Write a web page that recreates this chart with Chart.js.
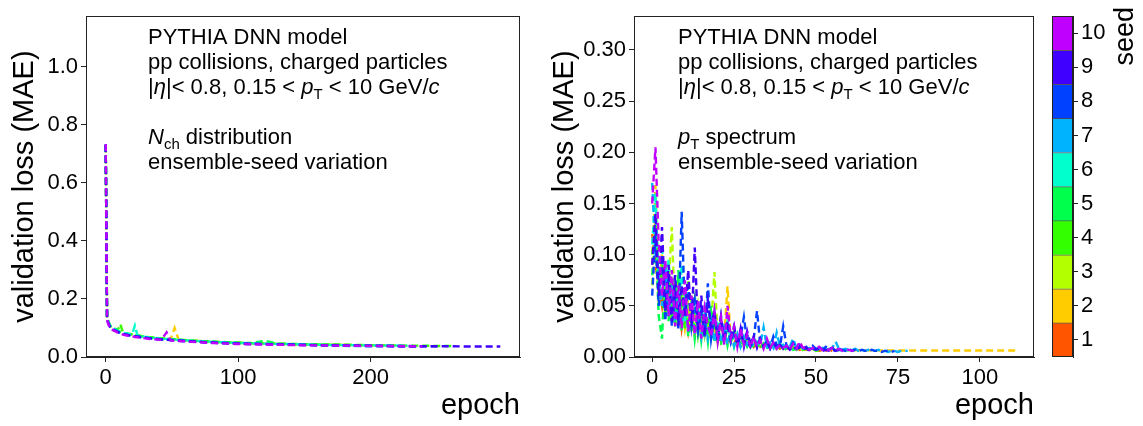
<!DOCTYPE html>
<html>
<head>
<meta charset="utf-8">
<script src="https://cdn.jsdelivr.net/npm/chart.js@4.4.0/dist/chart.umd.min.js"></script>
<style>
  body { margin: 0; background: #fff; }
  #wrap { position: relative; width: 1143px; height: 426px; background: #fff; }
  canvas { position: absolute; top: 0; }
</style>
</head>
<body>
<div id="wrap">
  <canvas id="nch" width="560" height="426" style="left:0"></canvas>
  <canvas id="pt" width="510" height="426" style="left:530px"></canvas>
  <canvas id="cbar" width="103" height="426" style="left:1040px"></canvas>
</div>
<script>
const FONT = '"Liberation Sans", Arial, sans-serif';

// seeds + colours of the colour bar
const seeds = [1, 2, 3, 4, 5, 6, 7, 8, 9, 10];
const seedColors = ['#ff5500', '#ffcc00', '#b3ff00', '#33ff00', '#00ff4d', '#00ffcc', '#00b3ff', '#0040ff', '#4000ff', '#bf00ff'];

/* ---- left panel: Nch distribution, loss read at these epochs ---- */
const nchEpochs = [0, 1, 2, 3, 4, 7, 9, 11, 13, 15, 17, 20, 22, 24, 26, 28, 30, 33, 36, 39, 42, 46, 49, 52, 55, 59, 62, 65,
  71, 76, 82, 87, 92, 98, 103, 109, 120, 131, 141, 152, 163, 174, 185, 196, 207, 218, 228, 239, 250, 261, 272, 283, 298];

const nchSeed1 = [0.728, 0.132, 0.120, 0.110, 0.101, 0.095, 0.089, 0.086, 0.082, 0.080, 0.078, 0.076, 0.074, 0.073, 0.071, 0.070, 0.068, 0.067, 0.065, 0.064, 0.063, 0.061, 0.060, 0.059, 0.058, 0.058, 0.057, 0.056, 0.054, 0.053, 0.052, 0.051, 0.050, 0.049, 0.048, 0.047, 0.046, 0.045, 0.044, 0.043, 0.042, 0.042, 0.041, 0.040];
const nchSeed2 = [0.731, 0.136, 0.119, 0.109, 0.102, 0.094, 0.090, 0.085, 0.082, 0.081, 0.078, 0.076, 0.074, 0.073, 0.071, 0.070, 0.069, 0.067, 0.066, 0.064, 0.063, 0.062, 0.061, 0.100, 0.060, 0.058, 0.057, 0.056, 0.055, 0.053, 0.052, 0.051, 0.050, 0.049, 0.048, 0.047, 0.046, 0.045, 0.044, 0.043, 0.043, 0.042, 0.041, 0.041, 0.040, 0.040];
const nchSeed3 = [0.729, 0.138, 0.121, 0.111, 0.100, 0.096, 0.091, 0.087, 0.083, 0.080, 0.079, 0.077, 0.075, 0.074, 0.072, 0.070, 0.069, 0.068, 0.066, 0.065, 0.064, 0.062, 0.061, 0.060, 0.059, 0.058, 0.057, 0.056, 0.055, 0.053, 0.052, 0.051, 0.050, 0.049, 0.048, 0.047, 0.046, 0.045, 0.044, 0.044, 0.043, 0.042, 0.041, 0.041, 0.040];
const nchSeed4 = [0.732, 0.140, 0.122, 0.112, 0.104, 0.097, 0.092, 0.113, 0.085, 0.082, 0.080, 0.078, 0.076, 0.075, 0.073, 0.071, 0.070, 0.068, 0.067, 0.065, 0.064, 0.063, 0.062, 0.061, 0.060, 0.059, 0.058, 0.057, 0.055, 0.054, 0.053, 0.052, 0.051, 0.050, 0.049, 0.048, 0.047, 0.046, 0.045, 0.044, 0.043, 0.042, 0.042, 0.041, 0.040, 0.040, 0.039, 0.039, 0.038, 0.038];
const nchSeed5 = [0.730, 0.137, 0.120, 0.110, 0.103, 0.096, 0.090, 0.086, 0.084, 0.081, 0.079, 0.077, 0.075, 0.073, 0.072, 0.070, 0.069, 0.067, 0.066, 0.064, 0.063, 0.062, 0.061, 0.060, 0.059, 0.058, 0.057, 0.056, 0.054, 0.053, 0.052, 0.051, 0.050, 0.049, 0.048, 0.047, 0.056, 0.045, 0.044, 0.043, 0.042, 0.042, 0.041];
const nchSeed6 = [0.733, 0.139, 0.121, 0.111, 0.103, 0.096, 0.091, 0.087, 0.084, 0.082, 0.080, 0.078, 0.108, 0.074, 0.072, 0.071, 0.069, 0.068, 0.066, 0.065, 0.063, 0.062, 0.061, 0.060, 0.059, 0.058, 0.057, 0.056, 0.054, 0.053, 0.052, 0.051, 0.050, 0.049, 0.048, 0.047, 0.046, 0.045, 0.044, 0.043, 0.042, 0.041, 0.041, 0.040, 0.040, 0.039, 0.039];
const nchSeed7 = [0.729, 0.134, 0.117, 0.107, 0.099, 0.092, 0.087, 0.083, 0.080, 0.078, 0.076, 0.074, 0.072, 0.071, 0.069, 0.068, 0.066, 0.065, 0.063, 0.062, 0.061, 0.059, 0.058, 0.057, 0.056, 0.055, 0.054, 0.053, 0.052, 0.050, 0.049, 0.048, 0.047, 0.046, 0.045, 0.045, 0.044, 0.043, 0.042, 0.041, 0.040, 0.039, 0.038, 0.037, 0.037, 0.036, 0.036, 0.035];
const nchSeed8 = [0.731, 0.133, 0.116, 0.106, 0.099, 0.092, 0.087, 0.083, 0.080, 0.078, 0.076, 0.074, 0.072, 0.071, 0.069, 0.068, 0.067, 0.065, 0.064, 0.062, 0.061, 0.060, 0.059, 0.058, 0.057, 0.056, 0.055, 0.054, 0.053, 0.051, 0.050, 0.049, 0.048, 0.047, 0.047, 0.046, 0.045, 0.044, 0.043, 0.042, 0.041, 0.040, 0.040, 0.039, 0.039, 0.038, 0.038, 0.037, 0.037];
const nchSeed9 = [0.730, 0.131, 0.115, 0.105, 0.098, 0.091, 0.086, 0.082, 0.079, 0.077, 0.075, 0.073, 0.071, 0.070, 0.068, 0.067, 0.066, 0.064, 0.063, 0.062, 0.060, 0.059, 0.058, 0.057, 0.056, 0.055, 0.054, 0.053, 0.052, 0.050, 0.049, 0.048, 0.047, 0.046, 0.046, 0.045, 0.044, 0.043, 0.042, 0.041, 0.040, 0.040, 0.039, 0.039, 0.038, 0.038, 0.037, 0.037, 0.037, 0.037, 0.036, 0.036, 0.036];
const nchSeed10 = [0.733, 0.128, 0.112, 0.102, 0.095, 0.089, 0.084, 0.080, 0.077, 0.075, 0.073, 0.071, 0.069, 0.068, 0.066, 0.065, 0.064, 0.062, 0.061, 0.060, 0.059, 0.085, 0.057, 0.056, 0.055, 0.054, 0.053, 0.052, 0.051, 0.049, 0.048, 0.047, 0.046, 0.045, 0.045, 0.044, 0.043, 0.042, 0.041, 0.040, 0.040, 0.039, 0.039, 0.038, 0.038, 0.037, 0.037, 0.036];
const nchLoss = [nchSeed1, nchSeed2, nchSeed3, nchSeed4, nchSeed5, nchSeed6, nchSeed7, nchSeed8, nchSeed9, nchSeed10];
const nchTicksX = [0, 100, 200];
const nchTicksY = [0, 0.2, 0.4, 0.6, 0.8, 1.0];

/* ---- right panel: pT spectrum, one value per epoch (index = epoch) ---- */
const ptSeed1 = [0.120, 0.090, 0.070, 0.050, 0.085, 0.040, 0.070, 0.032, 0.060, 0.028, 0.050, 0.025, 0.045, 0.022, 0.040, 0.020, 0.035, 0.018, 0.032, 0.016, 0.028, 0.015, 0.025, 0.014, 0.022, 0.013, 0.020, 0.012, 0.018, 0.011, 0.016, 0.010, 0.014, 0.010, 0.013, 0.009, 0.012, 0.009, 0.011, 0.008, 0.010, 0.008, 0.009, 0.008, 0.009, 0.007, 0.008, 0.007, 0.008, 0.007, 0.007, 0.006, 0.007, 0.006, 0.007, 0.006];
const ptSeed2 = [0.090, 0.168, 0.060, 0.100, 0.040, 0.080, 0.035, 0.065, 0.030, 0.055, 0.028, 0.050, 0.025, 0.045, 0.022, 0.040, 0.020, 0.035, 0.018, 0.030, 0.016, 0.028, 0.020, 0.069, 0.015, 0.025, 0.013, 0.022, 0.012, 0.020, 0.011, 0.018, 0.010, 0.016, 0.010, 0.014, 0.009, 0.013, 0.009, 0.012, 0.008, 0.011, 0.008, 0.010, 0.008, 0.009, 0.007, 0.009, 0.007, 0.008, 0.007, 0.008, 0.007, 0.007, 0.007, 0.007];
const ptSeed2TailEpochs = [60, 70, 80, 90, 100, 111];
const ptSeed2TailLoss = [0.0066, 0.0064, 0.0063, 0.0063, 0.0063, 0.0063];
const ptSeed3 = [0.070, 0.140, 0.050, 0.090, 0.040, 0.070, 0.127, 0.035, 0.080, 0.030, 0.065, 0.028, 0.060, 0.025, 0.050, 0.022, 0.045, 0.020, 0.030, 0.083, 0.018, 0.035, 0.015, 0.030, 0.014, 0.025, 0.012, 0.022, 0.011, 0.020, 0.010, 0.018, 0.010, 0.015, 0.009, 0.014, 0.009, 0.012, 0.008, 0.011, 0.008, 0.010, 0.008, 0.009, 0.007, 0.009, 0.007, 0.008, 0.007];
const ptSeed4 = [0.100, 0.130, 0.060, 0.090, 0.040, 0.080, 0.035, 0.070, 0.030, 0.060, 0.028, 0.075, 0.025, 0.055, 0.022, 0.045, 0.020, 0.040, 0.018, 0.035, 0.016, 0.038, 0.014, 0.030, 0.013, 0.026, 0.012, 0.022, 0.011, 0.020, 0.010, 0.018, 0.010, 0.016, 0.009, 0.014, 0.009, 0.012, 0.008, 0.011, 0.008, 0.010, 0.008, 0.009, 0.007, 0.009, 0.007, 0.008, 0.007, 0.008, 0.006, 0.007, 0.006];
const ptSeed5 = [0.080, 0.120, 0.040, 0.018, 0.090, 0.035, 0.075, 0.030, 0.085, 0.025, 0.065, 0.020, 0.055, 0.018, 0.045, 0.016, 0.040, 0.015, 0.050, 0.014, 0.035, 0.012, 0.030, 0.011, 0.025, 0.010, 0.022, 0.009, 0.018, 0.010, 0.016, 0.009, 0.014, 0.008, 0.013, 0.008, 0.012, 0.008, 0.011, 0.007, 0.010, 0.007, 0.009, 0.007, 0.008, 0.007];
const ptSeed6 = [0.110, 0.160, 0.070, 0.110, 0.050, 0.095, 0.045, 0.080, 0.040, 0.090, 0.035, 0.070, 0.030, 0.060, 0.028, 0.050, 0.025, 0.060, 0.022, 0.045, 0.020, 0.040, 0.018, 0.035, 0.016, 0.030, 0.014, 0.026, 0.013, 0.022, 0.012, 0.020, 0.011, 0.018, 0.010, 0.016, 0.010, 0.014, 0.009, 0.013, 0.009, 0.012, 0.008, 0.011, 0.008, 0.010, 0.008, 0.009, 0.007, 0.009, 0.007, 0.008, 0.007, 0.008, 0.007, 0.007, 0.006, 0.007, 0.006, 0.007, 0.006];
const ptSeed7 = [0.170, 0.100, 0.080, 0.050, 0.090, 0.040, 0.070, 0.035, 0.060, 0.030, 0.055, 0.025, 0.050, 0.022, 0.045, 0.020, 0.040, 0.018, 0.035, 0.015, 0.030, 0.014, 0.028, 0.012, 0.025, 0.011, 0.022, 0.010, 0.020, 0.012, 0.018, 0.010, 0.015, 0.012, 0.029, 0.010, 0.014, 0.009, 0.024, 0.010, 0.012, 0.009, 0.010, 0.018, 0.009, 0.011, 0.008, 0.010, 0.009, 0.008, 0.010, 0.008, 0.009, 0.007, 0.008, 0.009, 0.015, 0.008, 0.007, 0.008, 0.007, 0.007, 0.008, 0.006, 0.007, 0.006, 0.007, 0.006, 0.006, 0.007, 0.006, 0.006, 0.005, 0.006, 0.006, 0.005, 0.006, 0.006, 0.006];
const ptSeed8 = [0.060, 0.120, 0.050, 0.100, 0.035, 0.080, 0.030, 0.060, 0.028, 0.142, 0.040, 0.070, 0.030, 0.055, 0.025, 0.045, 0.020, 0.072, 0.018, 0.040, 0.015, 0.035, 0.020, 0.030, 0.014, 0.025, 0.012, 0.020, 0.039, 0.015, 0.010, 0.018, 0.045, 0.012, 0.010, 0.016, 0.009, 0.020, 0.012, 0.010, 0.030, 0.011, 0.008, 0.014, 0.009, 0.012, 0.008, 0.010, 0.007, 0.011, 0.008, 0.009, 0.007, 0.010, 0.008, 0.009, 0.006, 0.008, 0.007, 0.006, 0.008, 0.006, 0.007, 0.006, 0.007, 0.006, 0.006, 0.007, 0.006, 0.006, 0.005, 0.006, 0.006, 0.005, 0.006];
const ptSeed9 = [0.090, 0.140, 0.060, 0.127, 0.045, 0.090, 0.035, 0.080, 0.030, 0.070, 0.040, 0.085, 0.030, 0.107, 0.025, 0.060, 0.020, 0.055, 0.030, 0.045, 0.018, 0.040, 0.015, 0.035, 0.020, 0.030, 0.012, 0.028, 0.010, 0.025, 0.012, 0.020, 0.009, 0.018, 0.010, 0.015, 0.008, 0.014, 0.009, 0.012, 0.008, 0.011, 0.007, 0.010, 0.008, 0.009, 0.007, 0.009, 0.006, 0.008, 0.007, 0.008, 0.006, 0.007, 0.006, 0.007, 0.006, 0.007, 0.006];
const ptSeed10 = [0.150, 0.205, 0.110, 0.060, 0.095, 0.040, 0.085, 0.030, 0.070, 0.028, 0.075, 0.025, 0.060, 0.022, 0.055, 0.018, 0.048, 0.030, 0.020, 0.045, 0.015, 0.038, 0.012, 0.050, 0.018, 0.030, 0.010, 0.028, 0.012, 0.022, 0.009, 0.020, 0.010, 0.016, 0.008, 0.018, 0.009, 0.014, 0.008, 0.012, 0.009, 0.011, 0.007, 0.013, 0.008, 0.015, 0.009, 0.010, 0.007, 0.009, 0.008, 0.010, 0.007, 0.008, 0.007, 0.009, 0.007, 0.008, 0.006, 0.007, 0.007, 0.006, 0.007];
const ptLoss = [ptSeed1, ptSeed2, ptSeed3, ptSeed4, ptSeed5, ptSeed6, ptSeed7, ptSeed8, ptSeed9, ptSeed10];
const ptTicksX = [0, 25, 50, 75, 100];
const ptTicksY = [0, 0.05, 0.10, 0.15, 0.20, 0.25, 0.30];

// annotation text, [text, style] runs ('' normal, 'i' italic, 'sub' subscript)
const headLines = [
  [['PYTHIA DNN model', '']],
  [['pp collisions, charged particles', '']],
  [['|', ''], ['η', 'i'], ['|< 0.8, 0.15 < ', ''], ['p', 'i'], ['T', 'sub'], [' < 10 GeV/', ''], ['c', 'i']]
];
const nchNote = [[['N', 'i'], ['ch', 'sub'], [' distribution', '']], [['ensemble-seed variation', '']]];
const ptNote = [[['p', 'i'], ['T', 'sub'], [' spectrum', '']], [['ensemble-seed variation', '']]];

/* ------------------------------------------------------------------ */

const frame = {
  id: 'frame',
  afterDatasetsDraw(chart) {
    const { ctx, chartArea: a } = chart;
    ctx.save();
    ctx.strokeStyle = '#222';
    ctx.lineWidth = 1;
    ctx.strokeRect(Math.round(a.left) + 0.5, Math.round(a.top) + 0.5,
      Math.round(a.right - a.left) - 1, Math.round(a.bottom - a.top) - 1);
    ctx.restore();
  }
};

function drawRuns(ctx, runs, x, y) {
  for (const [t, st] of runs) {
    const size = st === 'sub' ? 15 : 22;
    ctx.font = (st === 'i' ? 'italic ' : '') + size + 'px ' + FONT;
    ctx.fillText(t, x, st === 'sub' ? y + 5 : y);
    x += ctx.measureText(t).width;
  }
}

function notePlugin(x, extra) {
  return {
    id: 'note',
    afterDraw(chart) {
      const ctx = chart.ctx;
      ctx.save();
      ctx.fillStyle = '#000';
      ctx.textBaseline = 'alphabetic';
      ctx.textAlign = 'left';
      const lines = headLines.concat([null], extra);
      lines.forEach((ln, i) => { if (ln) drawRuns(ctx, ln, x, 44 + i * 25); });
      ctx.restore();
    }
  };
}

const tickFont = { family: FONT, size: 22 };
const titleFont = { family: FONT, size: 29 };
const gridOpt = { drawOnChartArea: false, drawTicks: true, tickLength: 5, tickColor: '#222', tickWidth: 1 };
const borderOpt = { display: true, color: '#222', width: 1 };

function xScale(min, max, ticks) {
  return {
    type: 'linear', min: min, max: max,
    afterBuildTicks: s => { s.ticks = ticks.map(v => ({ value: v })); },
    afterFit: s => { s.height = 69; },
    ticks: { color: '#000', font: tickFont, padding: 3, maxRotation: 0, callback: v => String(v) },
    grid: gridOpt,
    border: borderOpt,
    title: { display: true, text: 'epoch', align: 'end', color: '#000', font: titleFont, padding: { top: 0, bottom: 3 } }
  };
}

function yScale(max, ticks, digits, width, titlePad) {
  return {
    min: 0, max: max,
    afterBuildTicks: s => { s.ticks = ticks.map(v => ({ value: v })); },
    afterFit: s => { s.width = width; },
    ticks: { color: '#000', font: tickFont, padding: 3, callback: v => v.toFixed(digits) },
    grid: gridOpt,
    border: borderOpt,
    title: { display: true, text: 'validation loss (MAE)', color: '#000', font: titleFont, padding: { top: titlePad, bottom: 0 } }
  };
}

function lineSet(i, points) {
  return {
    label: 'seed ' + seeds[i],
    data: points,
    order: seeds.length - i,   // seed 10 ends up on top
    borderColor: seedColors[i],
    borderWidth: 2.4,
    borderDash: [7, 4],
    pointRadius: 0,
    fill: false,
    tension: 0
  };
}

const baseOpts = {
  responsive: false,
  animation: false,
  devicePixelRatio: 1,
  plugins: { legend: { display: false }, tooltip: { enabled: false } }
};

// left: Nch distribution
new Chart(document.getElementById('nch'), {
  type: 'line',
  data: {
    datasets: nchLoss.map((vals, i) => lineSet(i, vals.map((v, k) => ({ x: nchEpochs[k], y: v }))))
  },
  options: Object.assign({}, baseOpts, {
    layout: { padding: { top: 7, right: 40, bottom: 0, left: 0 } },
    scales: { x: xScale(-14.9, 312.9, nchTicksX), y: yScale(1.173, nchTicksY, 1, 86, 8) }
  }),
  plugins: [frame, notePlugin(148, nchNote)]
});

// right: pT spectrum
new Chart(document.getElementById('pt'), {
  type: 'line',
  data: {
    datasets: ptLoss.map((vals, i) => {
      const pts = vals.map((v, k) => ({ x: k, y: v }));
      if (seeds[i] === 2) ptSeed2TailEpochs.forEach((e, k) => pts.push({ x: e, y: ptSeed2TailLoss[k] }));
      return lineSet(i, pts);
    })
  },
  options: Object.assign({}, baseOpts, {
    layout: { padding: { top: 7, right: 6, bottom: 0, left: 0 } },
    scales: { x: xScale(-5.55, 116.55, ptTicksX), y: yScale(0.333, ptTicksY, 2, 104, 18) }
  }),
  plugins: [frame, notePlugin(148, ptNote)]
});

// colour bar for the seeds
const seedLabel = {
  id: 'seedLabel',
  afterDraw(chart) {
    const ctx = chart.ctx;
    ctx.save();
    ctx.translate(86, 7);
    ctx.rotate(-Math.PI / 2);
    ctx.font = '27px ' + FONT;
    ctx.fillStyle = '#000';
    ctx.textAlign = 'right';
    ctx.textBaseline = 'middle';
    ctx.fillText('seed', 0, 0);
    ctx.restore();
  }
};

new Chart(document.getElementById('cbar'), {
  type: 'bar',
  data: {
    labels: ['seed'],
    datasets: seeds.map((s, i) => ({
      label: 'seed ' + s,
      data: [1],
      backgroundColor: seedColors[i],
      borderColor: 'rgba(0,0,0,0.6)',
      borderWidth: { top: 1, bottom: 0, left: 0, right: 0 },
      borderSkipped: false,
      barPercentage: 1,
      categoryPercentage: 1
    }))
  },
  options: Object.assign({}, baseOpts, {
    layout: { padding: { top: 7, right: 0, bottom: 69, left: 12 } },
    scales: {
      x: { display: false, stacked: true },
      y: {
        stacked: true, position: 'right', min: 0, max: 10,
        afterBuildTicks: s => { s.ticks = seeds.map(v => ({ value: v - 0.5 })); },
        afterFit: s => { s.width = 70; },
        ticks: { color: '#000', font: tickFont, padding: 3, callback: v => String(v + 0.5) },
        grid: gridOpt,
        border: borderOpt
      }
    }
  }),
  plugins: [frame, seedLabel]
});
</script>
</body>
</html>
